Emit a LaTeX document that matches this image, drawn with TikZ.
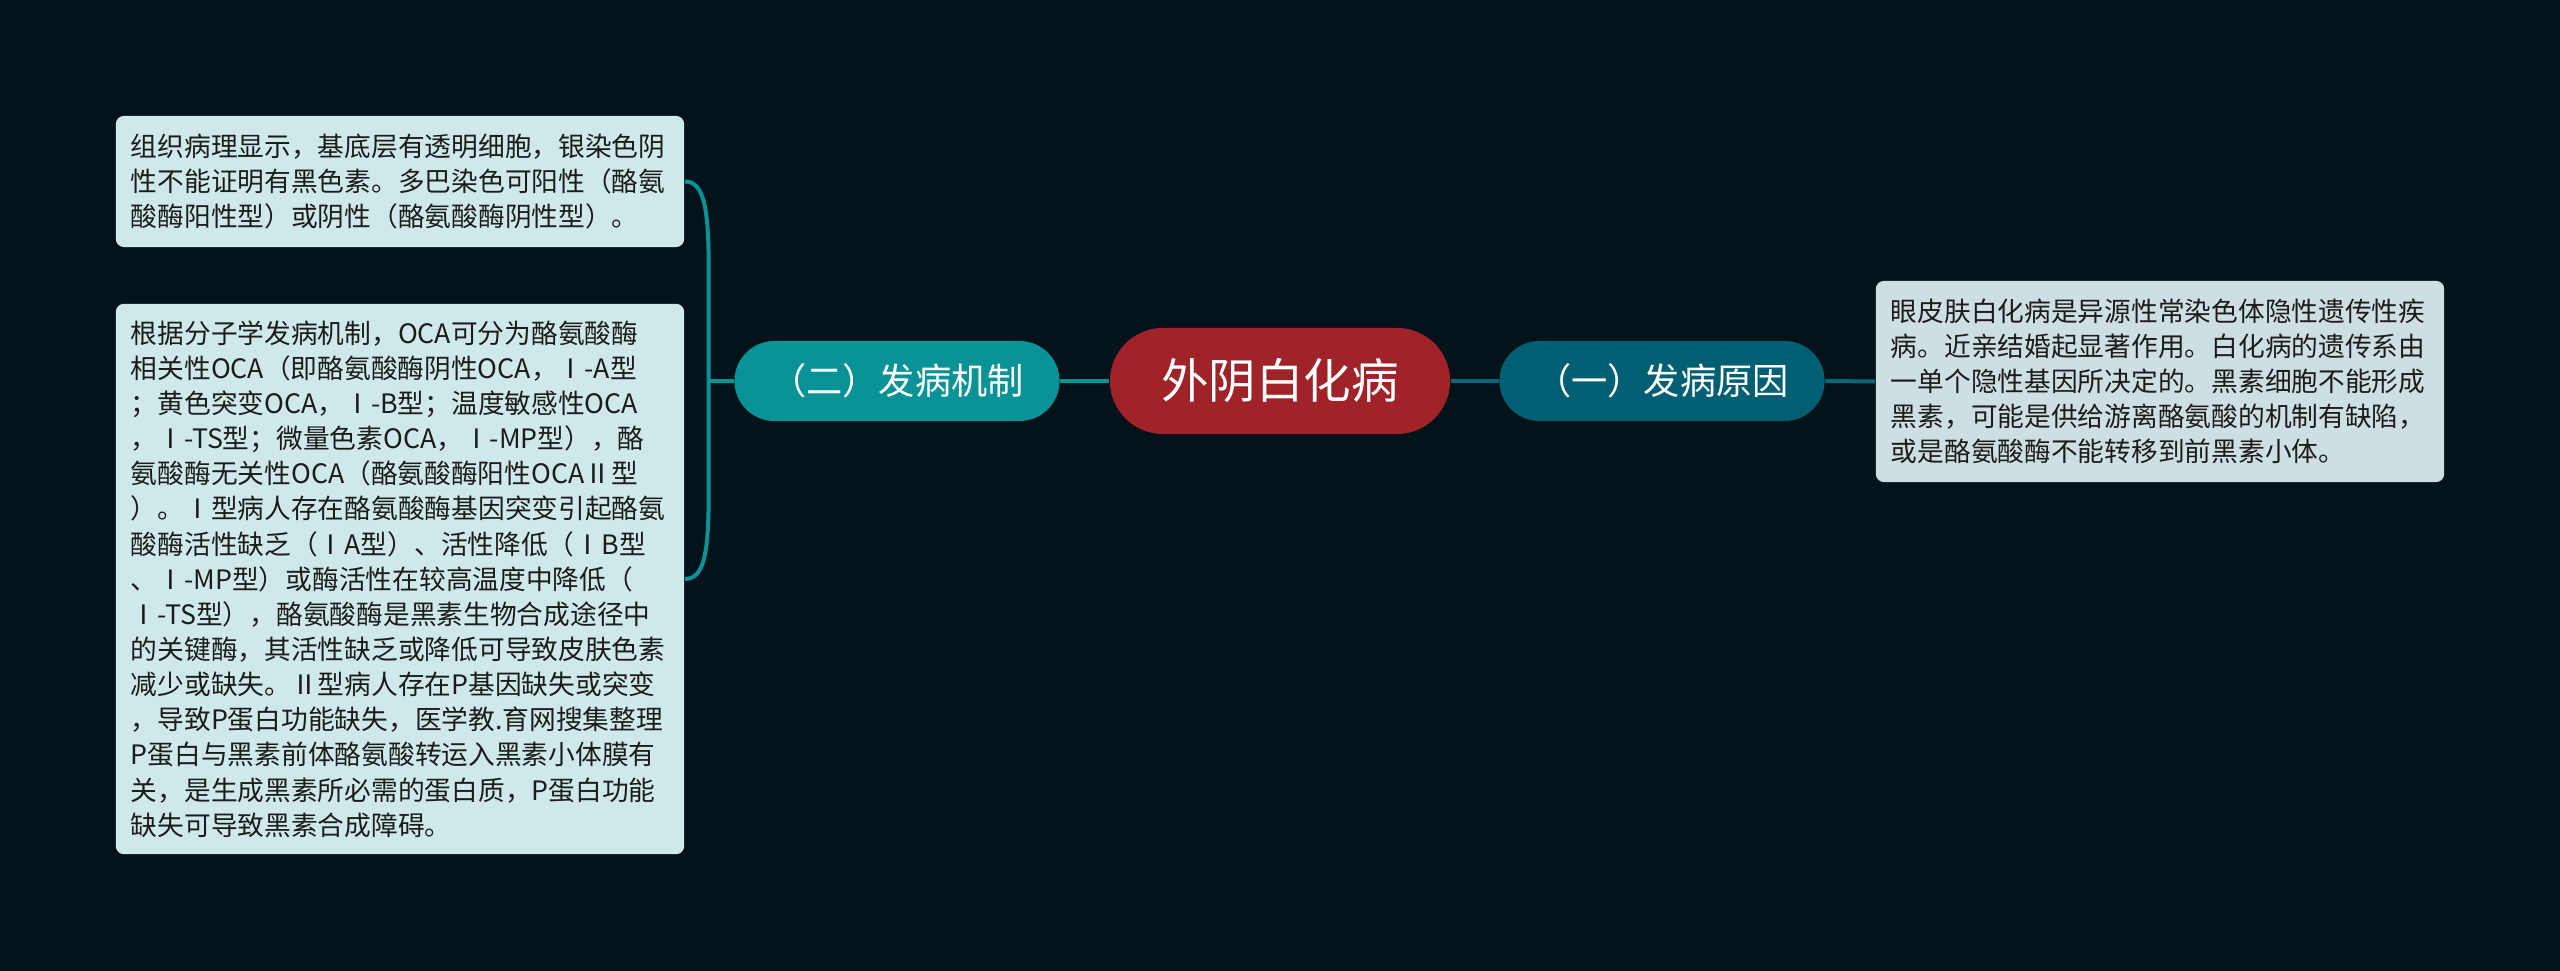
\documentclass[tikz,border=0pt]{standalone}
\usepackage{fontspec}
\setmainfont{Noto Sans CJK SC}
\usetikzlibrary{calc}
\definecolor{bgc}{HTML}{04121A}
\definecolor{rootc}{HTML}{9F2328}
\definecolor{ctwo}{HTML}{0A9396}
\definecolor{cone}{HTML}{005F73}
\definecolor{lbox}{HTML}{CFE9EB}
\definecolor{rbox}{HTML}{CEDFE3}
\definecolor{txt}{HTML}{1C1C1C}
\definecolor{edgeone}{HTML}{0C6678}
\begin{document}
\begin{tikzpicture}[x=0.01cm,y=-0.01cm,
  rootbox/.style={fill=rootc, text=white, rounded corners=0.53cm, minimum width=3.4cm, minimum height=1.06cm, inner sep=0pt, font=\fontsize{13.5}{16}\selectfont},
  lvlone/.style={rounded corners=0.4cm, minimum width=3.25cm, minimum height=0.8cm, text=white, inner sep=0pt, font=\fontsize{10.3}{12}\selectfont},
  textbox/.style={rounded corners=0.08cm, text width=5.38cm, align=left, inner xsep=0.15cm, inner ysep=0pt, text=txt, font=\fontsize{7.6}{10}\selectfont},
  edgeL/.style={draw=ctwo, line width=0.04cm},
  edgeR/.style={draw=edgeone, line width=0.04cm}]
\fill[bgc] (0,0) rectangle (2560,971);
\useasboundingbox (0,0) rectangle (2560,971);

\node[rootbox] (root) at (1280,381) {外阴白化病};
\node[lvlone, fill=ctwo] (b2) at (897,381) {（二）发病机制};
\node[lvlone, fill=cone] (b1) at (1662,381) {（一）发病原因};

\node[textbox, fill=lbox, minimum height=1.31cm] (tb) at (400,181.5) {组织病理显示，基底层有透明细胞，银染色阴\\性不能证明有黑色素。多巴染色可阳性（酪氨\\酸酶阳性型）或阴性（酪氨酸酶阴性型）。};

\node[textbox, fill=lbox, minimum height=5.5cm] (bb) at (400,579) {根据分子学发病机制，OCA可分为酪氨酸酶\\相关性OCA（即酪氨酸酶阴性OCA，Ⅰ-A型\\；黄色突变OCA，Ⅰ-B型；温度敏感性OCA\\，Ⅰ-TS型；微量色素OCA，Ⅰ-MP型），酪\\氨酸酶无关性OCA（酪氨酸酶阳性OCAⅡ型\\）。Ⅰ型病人存在酪氨酸酶基因突变引起酪氨\\酸酶活性缺乏（ⅠA型）、活性降低（ⅠB型\\、Ⅰ-MP型）或酶活性在较高温度中降低（\\Ⅰ-TS型），酪氨酸酶是黑素生物合成途径中\\的关键酶，其活性缺乏或降低可导致皮肤色素\\减少或缺失。Ⅱ型病人存在P基因缺失或突变\\，导致P蛋白功能缺失，医学教.育网搜集整理\\P蛋白与黑素前体酪氨酸转运入黑素小体膜有\\关，是生成黑素所必需的蛋白质，P蛋白功能\\缺失可导致黑素合成障碍。};

\node[textbox, fill=rbox, minimum height=2.01cm] (rb) at (2160,381.5) {眼皮肤白化病是异源性常染色体隐性遗传性疾\\病。近亲结婚起显著作用。白化病的遗传系由\\一单个隐性基因所决定的。黑素细胞不能形成\\黑素，可能是供给游离酪氨酸的机制有缺陷，\\或是酪氨酸酶不能转移到前黑素小体。};

\coordinate (j) at ($(b2.west)+(-25,0)$);
\coordinate (jt) at ($(j)+(0,-110)$);
\coordinate (jb) at ($(j)+(0,110)$);

\draw[edgeL] (root.west) -- (b2.east);
\draw[edgeR] (root.east) -- (b1.west);
\draw[edgeR] (b1.east) -- (rb.west);
\draw[edgeL] (b2.west) -- (j);
\draw[edgeL] (j) -- (jt) .. controls ($(jt)+(0,-60)$) and ($(tb.east)+(20,0)$) .. (tb.east);
\draw[edgeL] (j) -- (jb) .. controls ($(jb)+(0,60)$) and ($(bb.east)+(20,0)$) .. (bb.east);
\end{tikzpicture}
\end{document}
